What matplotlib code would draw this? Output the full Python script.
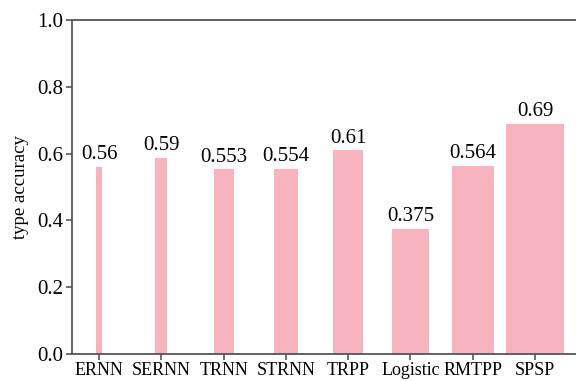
import matplotlib.pyplot as plt

models = ['ERNN', 'SERNN', 'TRNN', 'STRNN', 'TRPP', 'Logistic', 'RMTPP', 'SPSP']
accuracy = [0.56, 0.587, 0.553, 0.554, 0.61, 0.375, 0.564, 0.69]
labels = ['0.56', '0.59', '0.553', '0.554', '0.61', '0.375', '0.564', '0.69']
widths = [0.1, 0.19, 0.32, 0.39, 0.48, 0.6, 0.68, 0.92]

plt.rcParams['font.family'] = ['Liberation Serif', 'DejaVu Serif']

fig = plt.figure(figsize=(5.76, 3.81), dpi=100)
ax = fig.add_axes([72 / 576, 27 / 381, 1 - 72 / 576 + 0.01, 334 / 381])

x = list(range(len(models)))
ax.bar(x, accuracy, width=widths, color='#F7B3BE')
for xi, v, t in zip(x, accuracy, labels):
    ax.text(xi, v + 0.008, t, ha='center', va='bottom', fontsize=15)

ax.set_xlim(-0.435, 7.75)
ax.set_ylim(0, 1.0)
ax.set_xticks(x)
ax.set_xticklabels(models, fontsize=13)
ax.set_yticks([0, 0.2, 0.4, 0.6, 0.8, 1.0])
ax.set_yticklabels(['0.0', '0.2', '0.4', '0.6', '0.8', '1.0'], fontsize=15)
ax.set_ylabel('type accuracy', fontsize=13.5, labelpad=6)

for s in ['left', 'top', 'bottom']:
    ax.spines[s].set_color('#555555')
    ax.spines[s].set_linewidth(1.3)
ax.spines['right'].set_visible(False)
ax.tick_params(colors='#555555', labelcolor='black', width=1.2, length=4, pad=2)

fig.savefig('out.png', dpi=100)
